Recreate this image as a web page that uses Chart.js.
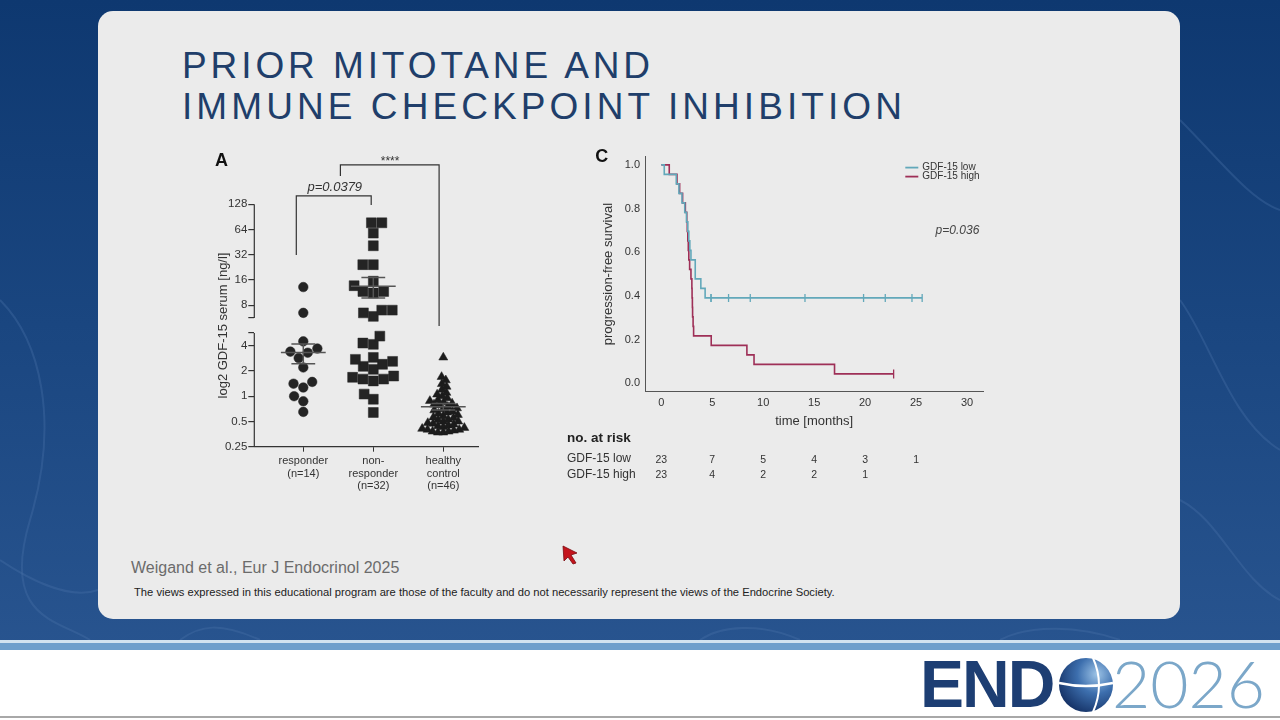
<!DOCTYPE html>
<html>
<head>
<meta charset="utf-8">
<script src="https://cdn.jsdelivr.net/npm/chart.js@4.4.1/dist/chart.umd.min.js"></script>
<style>
  html, body { margin: 0; padding: 0; }
  body { width: 1280px; height: 720px; overflow: hidden; position: relative;
         font-family: 'Liberation Sans', Arial, sans-serif;
         background: linear-gradient(180deg, #0e3870 0%, #1a4680 45%, #2b5792 100%); }
  #veins { position: absolute; left: 0; top: 0; }
  .panel { position: absolute; left: 98px; top: 11px; width: 1082px; height: 608px;
           background: #ebebeb; border-radius: 15px; }
  .title { position: absolute; left: 182px; top: 45px; font-size: 37px; line-height: 41px;
           color: #203e6a; white-space: nowrap; }
  .title span { display: block; }
  .cite { position: absolute; left: 131px; top: 559px; font-size: 16px; line-height: 18px; color: #6b6b6b; }
  .disc { position: absolute; left: 134px; top: 585px; font-size: 11.2px; line-height: 14px; color: #222; white-space: nowrap; }
  .footer { position: absolute; left: 0; top: 650px; width: 1280px; height: 70px; background: #fff; }
  .stripe1 { position: absolute; left: 0; top: 640px; width: 1280px; height: 3px; background: #d3e3f0; }
  .stripe2 { position: absolute; left: 0; top: 643px; width: 1280px; height: 7px; background: #6f9fcc; }
  .stripe3 { position: absolute; left: 0; top: 716px; width: 1280px; height: 2px; background: #a8a8a8; }
  .logo-end { position: absolute; left: 920px; top: 651px; font-size: 66px; line-height: 66px;
              font-weight: bold; color: #1d3e73; letter-spacing: -2px; }
  .logo-year { position: absolute; left: 1112px; top: 650px; font-family: Lato, 'Open Sans', sans-serif;
               font-weight: 300; font-size: 66px; line-height: 66px; color: #7ba7c9; }
  #globe { position: absolute; left: 1057px; top: 656px; }
  #cursor { position: absolute; left: 561px; top: 544px; }
  .box { position: absolute; }
  #boxA { left: 200px; top: 140px; width: 290px; height: 360px; }
  #boxC { left: 560px; top: 145px; width: 440px; height: 350px; }
</style>
</head>
<body>
<svg id="veins" width="1280" height="640">
  <g fill="none" stroke="#4a73a8" stroke-opacity="0.35" stroke-width="2">
    <path d="M0 300 C 40 340, 60 420, 30 520 S 60 620, 90 640"/>
    <path d="M0 560 C 30 580, 70 600, 98 590"/>
    <path d="M1180 120 C 1220 160, 1250 200, 1280 210"/>
    <path d="M1180 300 C 1210 340, 1230 420, 1280 450"/>
    <path d="M1180 500 C 1220 520, 1240 580, 1280 600"/>
    <path d="M180 640 C 200 625, 220 622, 260 640"/>
    <path d="M700 640 C 720 626, 760 622, 800 640"/>
    <path d="M1000 640 C 1030 624, 1080 626, 1120 640"/>
  </g>
</svg>
<div class="panel"></div>
<div class="title"><span id="t1">PRIOR MITOTANE AND</span><span id="t2">IMMUNE CHECKPOINT INHIBITION</span></div>
<div class="cite">Weigand et al., Eur J Endocrinol 2025</div>
<div class="disc">The views expressed in this educational program are those of the faculty and do not necessarily represent the views of the Endocrine Society.</div>
<div class="footer"></div>
<div class="stripe1"></div>
<div class="stripe2"></div>
<div class="stripe3"></div>
<div class="logo-end">END</div>
<svg id="globe" width="58" height="58" viewBox="0 0 58 58">
  <defs>
    <radialGradient id="gg" cx="0.7" cy="0.3" r="0.8">
      <stop offset="0" stop-color="#9cc3e6"/>
      <stop offset="0.45" stop-color="#3d6fae"/>
      <stop offset="1" stop-color="#132f63"/>
    </radialGradient>
  </defs>
  <circle cx="29" cy="29" r="27" fill="url(#gg)"/>
  <path d="M2 27 Q 29 33 56 27" stroke="#fff" stroke-width="2.5" fill="none"/>
  <path d="M36 2 Q 48 29 36 56" stroke="#fff" stroke-width="2" fill="none"/>
</svg>
<div class="logo-year">2026</div>
<svg id="cursor" width="20" height="22" viewBox="0 0 20 22">
  <path d="M2 2 L16 9 L10 11 L15 19 L12 20 L7 13 L3 17 Z" fill="#c4141c" stroke="#7a0a10" stroke-width="0.8"/>
</svg>

<div class="box" id="boxA"><canvas id="chartA"></canvas></div>
<div class="box" id="boxC"><canvas id="chartC"></canvas></div>

<script>
// ---- panel A: GDF-15 serum per group ----
const groupLabels = [['responder', '(n=14)'], ['non-', 'responder', '(n=32)'], ['healthy', 'control', '(n=46)']];
const responder = [13.2, 6.5, 4.5, 3.4, 3.7, 3.3, 2.85, 2.2, 1.41, 1.48, 1.27, 1.0, 0.87, 0.65];
const nonResponder = [77, 77, 58, 41, 24.4, 24.4, 15.5, 13.7, 11.7, 11.7, 11.2, 7.0, 7.0, 6.5, 5.9,
  5.2, 4.3, 4.15, 2.9, 2.75, 2.6, 2.4, 2.27, 2.09, 1.74, 1.68, 1.6, 1.6, 1.52, 1.06, 0.92, 0.64];
const healthy = [2.9, 1.7, 1.55, 1.4, 1.3, 1.2, 1.1, 1.05, 1.0, 0.95, 0.9, 0.88, 0.85, 0.82, 0.8, 0.78,
  0.75, 0.72, 0.7, 0.68, 0.66, 0.64, 0.62, 0.6, 0.58, 0.56, 0.55, 0.53, 0.52, 0.5, 0.5, 0.48, 0.47,
  0.46, 0.45, 0.44, 0.43, 0.42, 0.41, 0.4, 0.4, 0.39, 0.38, 0.38, 0.37, 0.37];
const yTickValues = [0.25, 0.5, 1, 2, 4, 8, 16, 32, 64, 128];

// ---- panel C: Kaplan-Meier, time in months, 1 = progression, 0 = censored ----
const lowTime = [0.29, 1.47, 1.73, 2.03, 2.3, 2.47, 2.6, 2.7, 2.8, 2.91, 3.33, 3.33, 3.88, 4.3,
  4.88, 4.88, 6.6, 8.73, 14.1, 19.85, 21.98, 24.6, 25.6];
const lowEvent = [1, 1, 1, 1, 1, 1, 1, 1, 1, 1, 1, 1, 1, 1, 0, 0, 0, 0, 0, 0, 0, 0, 0];
const highTime = [0.78, 1.54, 1.8, 2.09, 2.36, 2.5, 2.55, 2.6, 2.65, 2.7, 2.78, 2.91, 3.0, 3.02,
  3.05, 3.07, 3.12, 3.17, 4.9, 8.4, 9.1, 17.0, 22.8];
const highEvent = [1, 1, 1, 1, 1, 1, 1, 1, 1, 1, 1, 1, 1, 1, 1, 1, 1, 1, 1, 1, 1, 1, 0];
const xTickMonths = [0, 5, 10, 15, 20, 25, 30];
const riskTimes = [0, 5, 10, 15, 20, 25];
const riskLow = [23, 7, 5, 4, 3, 1];
const riskHigh = [23, 4, 2, 2, 1, null];

const LOW_COLOR = '#62a8ba';
const HIGH_COLOR = '#9e2f57';
const MARK = '#242424';
const FONT = "'Liberation Sans', Arial, sans-serif";

Chart.defaults.font.family = FONT;
Chart.defaults.color = '#333';

// fit title lines to their widths on the slide
function fitLine(id, width) {
  const el = document.getElementById(id);
  el.style.display = 'inline-block';
  const n = el.textContent.length;
  const w = el.getBoundingClientRect().width;
  el.style.letterSpacing = ((width - w) / n) + 'px';
  el.style.display = 'block';
}
fitLine('t1', 472);
fitLine('t2', 724);

// broken log2 axis: values above the break are shifted up by GAP units
const BREAK = 2.5, GAP = 0.6;
function toAxis(v) { const l = Math.log2(v); return l > BREAK ? l + GAP : l; }

const PX_PER_UNIT = 25.25, PX_PER_CAT = 70;
function swarm(values, center, diam) {
  const placed = [];
  const order = values.map((v, i) => i).sort((a, b) => values[a] - values[b]);
  const out = [];
  order.forEach(i => {
    const py = toAxis(values[i]) * PX_PER_UNIT;
    const blocks = [];
    placed.forEach(p => {
      const dy = Math.abs(p.py - py);
      if (dy < diam) {
        const h = Math.sqrt(diam * diam - dy * dy);
        blocks.push([p.px - h, p.px + h]);
      }
    });
    const cands = [0];
    blocks.forEach(b => cands.push(b[0], b[1]));
    cands.sort((a, b) => Math.abs(a) - Math.abs(b));
    const px = cands.find(c => blocks.every(b => c <= b[0] + 1e-6 || c >= b[1] - 1e-6));
    placed.push({ px, py });
    out.push({ x: center + px / PX_PER_CAT, y: toAxis(values[i]) });
  });
  return out;
}

function meanSem(values) {
  const n = values.length;
  const m = values.reduce((a, b) => a + b, 0) / n;
  const sd = Math.sqrt(values.reduce((a, b) => a + (b - m) * (b - m), 0) / (n - 1));
  return { mean: m, sem: sd / Math.sqrt(n) };
}

const groups = [responder, nonResponder, healthy];
const tickU = yTickValues.map(toAxis).concat([BREAK, BREAK + GAP]);

const panelA = {
  id: 'panelA',
  afterDatasetsDraw(chart) {
    const { ctx, scales: { x, y }, chartArea } = chart;
    ctx.save();
    // broken y axis line
    ctx.strokeStyle = '#333';
    ctx.lineWidth = 1.2;
    ctx.beginPath();
    ctx.moveTo(chartArea.left, y.getPixelForValue(-2));
    ctx.lineTo(chartArea.left, y.getPixelForValue(BREAK));
    ctx.moveTo(chartArea.left, y.getPixelForValue(BREAK + GAP));
    ctx.lineTo(chartArea.left, y.getPixelForValue(toAxis(128)));
    ctx.stroke();

    // mean with SEM
    ctx.strokeStyle = '#555';
    ctx.lineWidth = 1.5;
    groups.forEach((vals, i) => {
      const { mean, sem } = meanSem(vals);
      const ym = y.getPixelForValue(toAxis(mean));
      const yt = y.getPixelForValue(toAxis(mean + sem));
      const yb = y.getPixelForValue(toAxis(mean - sem));
      ctx.beginPath();
      ctx.moveTo(x.getPixelForValue(i - 0.32), ym);
      ctx.lineTo(x.getPixelForValue(i + 0.32), ym);
      ctx.moveTo(x.getPixelForValue(i), yt);
      ctx.lineTo(x.getPixelForValue(i), yb);
      ctx.moveTo(x.getPixelForValue(i - 0.17), yt);
      ctx.lineTo(x.getPixelForValue(i + 0.17), yt);
      ctx.moveTo(x.getPixelForValue(i - 0.17), yb);
      ctx.lineTo(x.getPixelForValue(i + 0.17), yb);
      ctx.stroke();
    });
    ctx.restore();
  },
  afterDraw(chart) {
    const { ctx, scales: { x, y } } = chart;
    ctx.save();
    ctx.strokeStyle = '#333';
    ctx.lineWidth = 1.2;
    const bracket = (x0, x1, top, l, r) => {
      ctx.beginPath();
      ctx.moveTo(x.getPixelForValue(x0), y.getPixelForValue(l));
      ctx.lineTo(x.getPixelForValue(x0), y.getPixelForValue(top));
      ctx.lineTo(x.getPixelForValue(x1), y.getPixelForValue(top));
      ctx.lineTo(x.getPixelForValue(x1), y.getPixelForValue(r));
      ctx.stroke();
    };
    bracket(-0.1, 0.97, 7.93, 5.59, 7.57);
    bracket(0.53, 1.94, 9.16, 8.72, 2.78);
    ctx.fillStyle = '#333';
    ctx.textAlign = 'center';
    ctx.textBaseline = 'middle';
    ctx.font = 'italic 13px ' + FONT;
    ctx.fillText('p=0.0379', x.getPixelForValue(0.45), y.getPixelForValue(8.25));
    ctx.font = '12px ' + FONT;
    ctx.fillText('****', x.getPixelForValue(1.24), y.getPixelForValue(9.3));
    ctx.fillStyle = '#111';
    ctx.font = 'bold 18px ' + FONT;
    ctx.fillText('A', 21.5, 21.5);
    ctx.restore();
  }
};

new Chart(document.getElementById('chartA'), {
  type: 'scatter',
  data: {
    datasets: [
      { data: swarm(responder, 0, 10.5), pointStyle: 'circle', pointRadius: 4.8,
        backgroundColor: MARK, borderColor: MARK, borderWidth: 0.5 },
      { data: swarm(nonResponder, 1, 10.5), pointStyle: 'rect', pointRadius: 7,
        backgroundColor: MARK, borderColor: MARK, borderWidth: 0.5 },
      { data: swarm(healthy, 2, 5.4), pointStyle: 'triangle', pointRadius: 5.2,
        backgroundColor: '#1c1c1c', borderColor: '#1c1c1c', borderWidth: 0.5 }
    ]
  },
  options: {
    responsive: true,
    maintainAspectRatio: false,
    animation: false,
    events: [],
    layout: { padding: { top: 64.3, right: 11.7, left: 0, bottom: 0 } },
    plugins: { legend: { display: false }, tooltip: { enabled: false } },
    scales: {
      x: {
        type: 'linear', min: -0.7, max: 2.5,
        afterBuildTicks: s => { s.ticks = [0, 1, 2].map(v => ({ value: v })); },
        afterFit: s => { s.height = 53.3; },
        ticks: { autoSkip: false, maxRotation: 0, padding: 3, color: '#333',
                 font: { size: 11, lineHeight: 1.15 },
                 callback: v => groupLabels[v] },
        grid: { drawOnChartArea: false, tickLength: 5, color: '#333' },
        border: { color: '#333', width: 1.2 }
      },
      y: {
        type: 'linear', min: -2, max: toAxis(128),
        afterBuildTicks: s => { s.ticks = tickU.map(v => ({ value: v })); },
        afterFit: s => { s.width = 54.3; },
        ticks: { autoSkip: false, padding: 1, color: '#333', font: { size: 11.5 },
                 callback: v => {
                   const k = yTickValues.findIndex(t => Math.abs(toAxis(t) - v) < 1e-6);
                   return k >= 0 ? String(yTickValues[k]) : '';
                 } },
        grid: { drawOnChartArea: false, tickLength: 6, color: '#333', lineWidth: 1.2 },
        border: { display: false },
        title: { display: true, text: 'log2 GDF-15 serum [ng/l]', color: '#333',
                 font: { size: 13 }, padding: { top: 15.5, bottom: 0 } }
      }
    }
  },
  plugins: [panelA]
});

// ---- Kaplan-Meier estimate from the raw times ----
function kmCurve(times, events) {
  const idx = times.map((t, i) => i).sort((a, b) => times[a] - times[b]);
  let atRisk = times.length, s = 1, k = 0;
  const steps = [{ x: 0, y: 1 }], marks = [];
  while (k < idx.length) {
    const t = times[idx[k]];
    let d = 0, c = 0;
    while (k < idx.length && times[idx[k]] === t) { if (events[idx[k]]) d++; else c++; k++; }
    if (d) { s *= 1 - d / atRisk; steps.push({ x: t, y: s }); }
    for (let j = 0; j < c; j++) marks.push({ x: t, y: s });
    atRisk -= d + c;
  }
  steps.push({ x: times[idx[idx.length - 1]], y: s });
  return { steps, marks };
}
const low = kmCurve(lowTime, lowEvent);
const high = kmCurve(highTime, highEvent);

const panelC = {
  id: 'panelC',
  afterDraw(chart) {
    const { ctx, scales: { x }, chartArea } = chart;
    ctx.save();
    // legend
    const items = [['GDF-15 low', LOW_COLOR], ['GDF-15 high', HIGH_COLOR]];
    ctx.font = '10px ' + FONT;
    ctx.textBaseline = 'middle';
    items.forEach((it, i) => {
      const yy = chartArea.top + 11 + i * 9;
      ctx.strokeStyle = it[1];
      ctx.lineWidth = 1.8;
      ctx.beginPath();
      ctx.moveTo(chartArea.right - 78, yy);
      ctx.lineTo(chartArea.right - 65, yy);
      ctx.stroke();
      ctx.fillStyle = '#333';
      ctx.textAlign = 'left';
      ctx.fillText(it[0], chartArea.right - 61, yy);
    });
    ctx.font = 'italic 12px ' + FONT;
    ctx.fillStyle = '#444';
    ctx.textAlign = 'right';
    ctx.fillText('p=0.036', chartArea.right - 4, chartArea.top + 74);

    // panel letter
    ctx.fillStyle = '#111';
    ctx.textAlign = 'center';
    ctx.font = 'bold 18px ' + FONT;
    ctx.fillText('C', 41.7, 11.7);

    // number at risk table
    ctx.fillStyle = '#222';
    ctx.textAlign = 'left';
    ctx.font = 'bold 13.5px ' + FONT;
    ctx.fillText('no. at risk', 7, 293);
    ctx.font = '12px ' + FONT;
    ctx.fillStyle = '#333';
    ctx.fillText('GDF-15 low', 7, 314);
    ctx.fillText('GDF-15 high', 7, 330);
    ctx.font = '10.5px ' + FONT;
    ctx.textAlign = 'center';
    riskTimes.forEach((t, i) => {
      const px = x.getPixelForValue(t);
      if (riskLow[i] != null) ctx.fillText(String(riskLow[i]), px, 315.5);
      if (riskHigh[i] != null) ctx.fillText(String(riskHigh[i]), px, 329.7);
    });
    ctx.restore();
  }
};

new Chart(document.getElementById('chartC'), {
  type: 'line',
  data: {
    datasets: [
      { label: 'GDF-15 low', data: low.steps, stepped: 'before', borderColor: LOW_COLOR,
        borderWidth: 1.6, pointRadius: 0, fill: false },
      { label: 'GDF-15 high', data: high.steps, stepped: 'before', borderColor: HIGH_COLOR,
        borderWidth: 1.6, pointRadius: 0, fill: false },
      { data: low.marks, showLine: false, pointStyle: 'line', rotation: 90, pointRadius: 4,
        borderColor: LOW_COLOR, borderWidth: 1.3 },
      { data: high.marks, showLine: false, pointStyle: 'line', rotation: 90, pointRadius: 4.5,
        borderColor: HIGH_COLOR, borderWidth: 1.3 }
    ]
  },
  options: {
    responsive: true,
    maintainAspectRatio: false,
    animation: false,
    events: [],
    layout: { padding: { top: 10, right: 16.7, left: 0, bottom: 65 } },
    plugins: { legend: { display: false }, tooltip: { enabled: false } },
    scales: {
      x: {
        type: 'linear', min: -1.6, max: 31.6,
        afterBuildTicks: s => { s.ticks = xTickMonths.map(v => ({ value: v })); },
        afterFit: s => { s.height = 38.3; },
        ticks: { autoSkip: false, maxRotation: 0, padding: 5, color: '#333', font: { size: 11 } },
        grid: { drawOnChartArea: false, drawTicks: false },
        border: { color: '#555', width: 1 },
        title: { display: true, text: 'time [months]', color: '#333',
                 font: { size: 13 }, padding: { top: 0, bottom: 0.5 } }
      },
      y: {
        type: 'linear', min: -0.038, max: 1.038,
        afterBuildTicks: s => { s.ticks = [0, 0.2, 0.4, 0.6, 0.8, 1.0].map(v => ({ value: v })); },
        afterFit: s => { s.width = 85; },
        ticks: { autoSkip: false, padding: 5, color: '#333', font: { size: 11 },
                 callback: v => v.toFixed(1) },
        grid: { drawOnChartArea: false, drawTicks: false },
        border: { color: '#555', width: 1 },
        title: { display: true, text: 'progression-free survival', color: '#333',
                 font: { size: 13 }, padding: { top: 41, bottom: 0 } }
      }
    }
  },
  plugins: [panelC]
});
</script>
</body>
</html>
